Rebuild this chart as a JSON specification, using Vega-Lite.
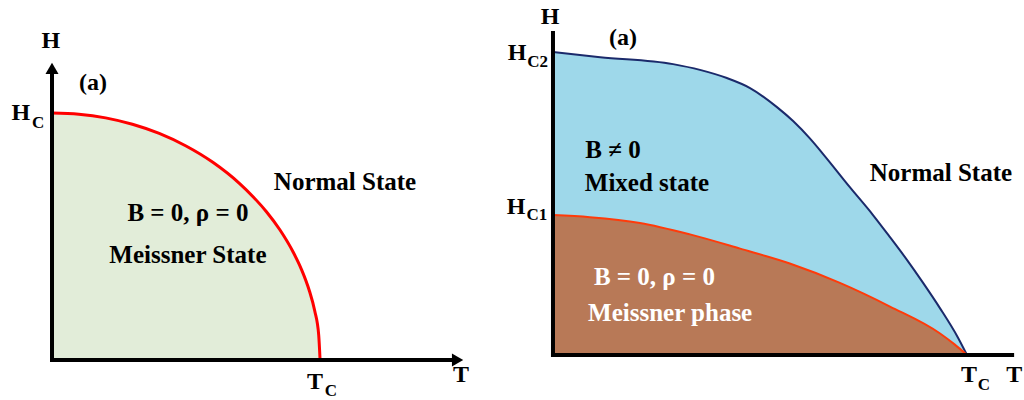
{
  "$schema": "https://vega.github.io/schema/vega-lite/v6.json",
  "padding": 0,
  "spacing": 0,
  "bounds": "flush",
  "background": "white",
  "config": {
    "view": {"stroke": null},
    "text": {"font": "Liberation Serif", "fontWeight": "bold", "baseline": "middle", "align": "center"}
  },
  "datasets": {
    "curveL": [
      {"T": 0, "H": 1}, {"T": 0.1, "H": 0.995}, {"T": 0.2, "H": 0.98}, {"T": 0.3, "H": 0.954},
      {"T": 0.4, "H": 0.917}, {"T": 0.5, "H": 0.866}, {"T": 0.6, "H": 0.8}, {"T": 0.7, "H": 0.714},
      {"T": 0.75, "H": 0.661}, {"T": 0.8, "H": 0.6}, {"T": 0.85, "H": 0.527}, {"T": 0.9, "H": 0.436},
      {"T": 0.93, "H": 0.368}, {"T": 0.96, "H": 0.28}, {"T": 0.98, "H": 0.199}, {"T": 0.995, "H": 0.1},
      {"T": 1.0, "H": 0}
    ],
    "hc2": [
      {"T": 0, "H": 1.0}, {"T": 0.114, "H": 0.983}, {"T": 0.29, "H": 0.96}, {"T": 0.355, "H": 0.941},
      {"T": 0.42, "H": 0.914}, {"T": 0.476, "H": 0.881}, {"T": 0.541, "H": 0.818}, {"T": 0.58, "H": 0.772},
      {"T": 0.621, "H": 0.714}, {"T": 0.652, "H": 0.664}, {"T": 0.717, "H": 0.554}, {"T": 0.773, "H": 0.462},
      {"T": 0.814, "H": 0.389}, {"T": 0.855, "H": 0.314}, {"T": 0.894, "H": 0.238}, {"T": 0.935, "H": 0.154},
      {"T": 0.978, "H": 0.058}, {"T": 1.0, "H": 0}
    ],
    "hc1": [
      {"T": 0, "H": 0.462}, {"T": 0.089, "H": 0.455}, {"T": 0.21, "H": 0.436}, {"T": 0.331, "H": 0.398},
      {"T": 0.452, "H": 0.351}, {"T": 0.572, "H": 0.302}, {"T": 0.693, "H": 0.238}, {"T": 0.814, "H": 0.16},
      {"T": 0.935, "H": 0.071}, {"T": 0.97, "H": 0.035}, {"T": 1.0, "H": 0}
    ],
    "axes": [
      {"panel": "L", "T": 0, "H": 0, "T2": 0, "H2": 1.165},
      {"panel": "L", "T": 0, "H": 0, "T2": 1.5, "H2": 0},
      {"panel": "R", "T": 0, "H": 0, "T2": 0, "H2": 1.063},
      {"panel": "R", "T": 0, "H": 0, "T2": 1.109, "H2": 0}
    ],
    "arrows": [
      {"T": 0, "H": 1.18, "dir": "up"},
      {"T": 1.513, "H": 0, "dir": "right"}
    ],
    "labels": [
      {"panel": "L", "kind": "main", "text": "Normal State", "T": 1.093, "H": 0.721},
      {"panel": "L", "kind": "main", "text": "B = 0, ρ = 0", "T": 0.507, "H": 0.595},
      {"panel": "L", "kind": "main", "text": "Meissner State", "T": 0.507, "H": 0.425},
      {"panel": "L", "kind": "axis", "text": "H", "T": -0.004, "H": 1.291},
      {"panel": "L", "kind": "axis", "text": "(a)", "T": 0.153, "H": 1.121},
      {"panel": "L", "kind": "axis", "text": "H", "T": -0.116, "H": 1.0},
      {"panel": "L", "kind": "axis", "text": "T", "T": 0.981, "H": -0.089},
      {"panel": "L", "kind": "axis", "text": "T", "T": 1.526, "H": -0.061},
      {"panel": "L", "kind": "sub", "text": "C", "T": -0.052, "H": 0.96},
      {"panel": "L", "kind": "sub", "text": "C", "T": 1.04, "H": -0.126},
      {"panel": "R", "kind": "main", "text": "Normal State", "T": 0.937, "H": 0.601},
      {"panel": "R", "kind": "main", "text": "B ≠ 0", "T": 0.145, "H": 0.677},
      {"panel": "R", "kind": "main", "text": "Mixed state", "T": 0.227, "H": 0.568},
      {"panel": "R", "kind": "inside", "text": "B = 0, ρ = 0", "T": 0.245, "H": 0.257},
      {"panel": "R", "kind": "inside", "text": "Meissner phase", "T": 0.283, "H": 0.139},
      {"panel": "R", "kind": "axis", "text": "H", "T": -0.007, "H": 1.116},
      {"panel": "R", "kind": "axis", "text": "(a)", "T": 0.169, "H": 1.046},
      {"panel": "R", "kind": "axis", "text": "H", "T": -0.087, "H": 0.997},
      {"panel": "R", "kind": "axis", "text": "H", "T": -0.089, "H": 0.488},
      {"panel": "R", "kind": "axis", "text": "T", "T": 1.005, "H": -0.066},
      {"panel": "R", "kind": "axis", "text": "T", "T": 1.114, "H": -0.066},
      {"panel": "R", "kind": "sub", "text": "C2", "T": -0.037, "H": 0.967},
      {"panel": "R", "kind": "sub", "text": "C1", "T": -0.039, "H": 0.462},
      {"panel": "R", "kind": "sub", "text": "C", "T": 1.041, "H": -0.099}
    ]
  },
  "hconcat": [
    {
      "width": 512,
      "height": 400,
      "encoding": {
        "x": {"field": "T", "type": "quantitative", "axis": null, "scale": {"domain": [-0.194, 1.716], "zero": false, "nice": false}},
        "y": {"field": "H", "type": "quantitative", "axis": null, "scale": {"domain": [-0.162, 1.457], "zero": false, "nice": false}}
      },
      "layer": [
        {
          "data": {"name": "curveL"},
          "mark": {"type": "area", "color": "#e2edd9", "interpolate": "monotone"},
          "encoding": {"y2": {"datum": 0}}
        },
        {
          "data": {"name": "curveL"},
          "mark": {"type": "line", "color": "#ff0000", "strokeWidth": 3, "interpolate": "monotone"},
          "encoding": {}
        },
        {
          "data": {"name": "axes"},
          "transform": [{"filter": "datum.panel === 'L'"}],
          "mark": {"type": "rule", "color": "black", "strokeWidth": 4, "strokeCap": "square"},
          "encoding": {"x2": {"field": "T2"}, "y2": {"field": "H2"}}
        },
        {
          "data": {"name": "arrows"},
          "mark": {"type": "point", "filled": true, "color": "black", "size": 170, "opacity": 1},
          "encoding": {"shape": {"field": "dir", "type": "nominal", "legend": null, "scale": {"domain": ["up", "right"], "range": ["triangle-up", "triangle-right"]}}}
        },
        {
          "data": {"name": "labels"},
          "transform": [{"filter": "datum.panel === 'L' && datum.kind === 'main'"}],
          "mark": {"type": "text", "fontSize": 25, "color": "black"},
          "encoding": {"text": {"field": "text"}}
        },
        {
          "data": {"name": "labels"},
          "transform": [{"filter": "datum.panel === 'L' && datum.kind === 'axis'"}],
          "mark": {"type": "text", "fontSize": 24, "color": "black"},
          "encoding": {"text": {"field": "text"}}
        },
        {
          "data": {"name": "labels"},
          "transform": [{"filter": "datum.panel === 'L' && datum.kind === 'sub'"}],
          "mark": {"type": "text", "fontSize": 17, "color": "black"},
          "encoding": {"text": {"field": "text"}}
        }
      ]
    },
    {
      "width": 512,
      "height": 400,
      "encoding": {
        "x": {"field": "T", "type": "quantitative", "axis": null, "scale": {"domain": [-0.099, 1.1377], "zero": false, "nice": false}},
        "y": {"field": "H", "type": "quantitative", "axis": null, "scale": {"domain": [-0.1485, 1.1716], "zero": false, "nice": false}}
      },
      "layer": [
        {
          "data": {"name": "hc2"},
          "mark": {"type": "area", "color": "#9ed8ea", "interpolate": "monotone"},
          "encoding": {"y2": {"datum": 0}}
        },
        {
          "data": {"name": "hc1"},
          "mark": {"type": "area", "color": "#b87957", "interpolate": "monotone"},
          "encoding": {"y2": {"datum": 0}}
        },
        {
          "data": {"name": "hc2"},
          "mark": {"type": "line", "color": "#1b2a6b", "strokeWidth": 2, "interpolate": "monotone"},
          "encoding": {}
        },
        {
          "data": {"name": "hc1"},
          "mark": {"type": "line", "color": "#ff3b0a", "strokeWidth": 2, "interpolate": "monotone"},
          "encoding": {}
        },
        {
          "data": {"name": "axes"},
          "transform": [{"filter": "datum.panel === 'R'"}],
          "mark": {"type": "rule", "color": "black", "strokeWidth": 4, "strokeCap": "square"},
          "encoding": {"x2": {"field": "T2"}, "y2": {"field": "H2"}}
        },
        {
          "data": {"name": "labels"},
          "transform": [{"filter": "datum.panel === 'R' && datum.kind === 'main'"}],
          "mark": {"type": "text", "fontSize": 25, "color": "black"},
          "encoding": {"text": {"field": "text"}}
        },
        {
          "data": {"name": "labels"},
          "transform": [{"filter": "datum.panel === 'R' && datum.kind === 'inside'"}],
          "mark": {"type": "text", "fontSize": 25, "color": "white"},
          "encoding": {"text": {"field": "text"}}
        },
        {
          "data": {"name": "labels"},
          "transform": [{"filter": "datum.panel === 'R' && datum.kind === 'axis'"}],
          "mark": {"type": "text", "fontSize": 24, "color": "black"},
          "encoding": {"text": {"field": "text"}}
        },
        {
          "data": {"name": "labels"},
          "transform": [{"filter": "datum.panel === 'R' && datum.kind === 'sub'"}],
          "mark": {"type": "text", "fontSize": 17, "color": "black"},
          "encoding": {"text": {"field": "text"}}
        }
      ]
    }
  ]
}
